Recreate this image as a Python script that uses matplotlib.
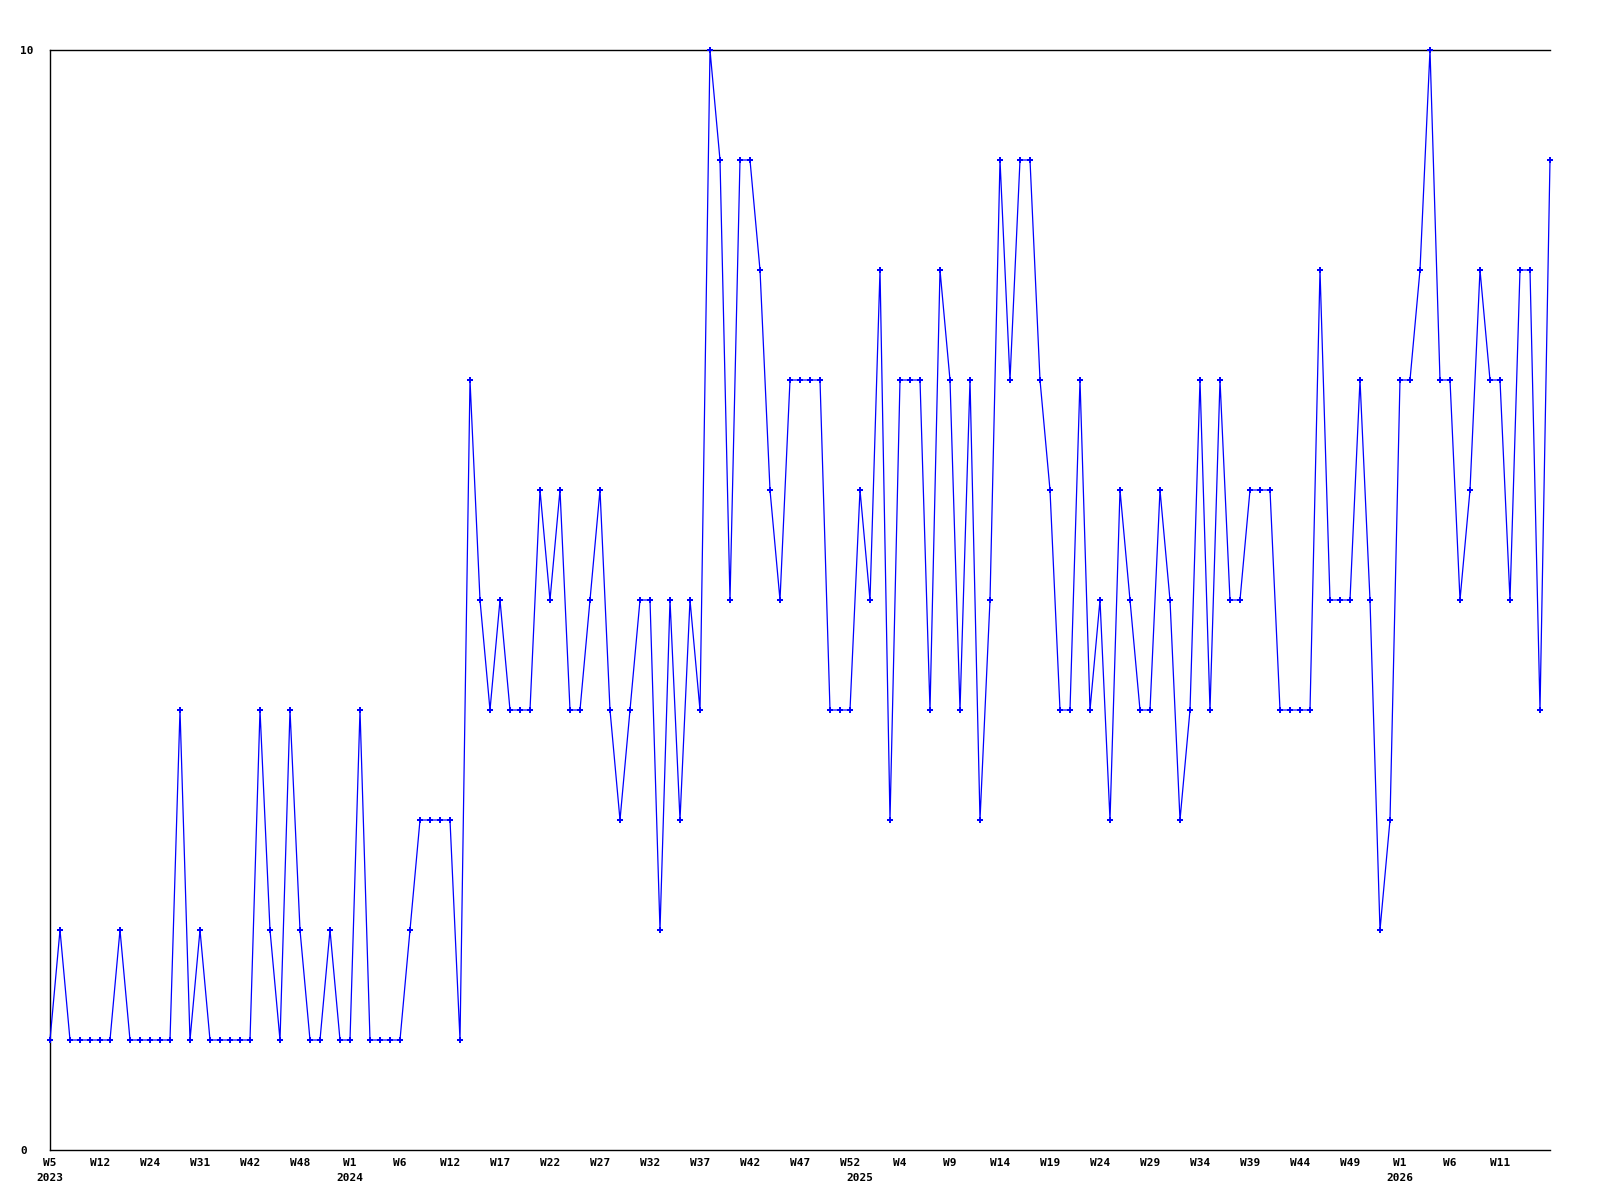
import matplotlib
matplotlib.use("Agg")
import matplotlib.pyplot as plt
import numpy as np

values = [1, 2, 1, 1, 1, 1, 1, 2, 1, 1, 1, 1, 1, 4, 1, 2, 1, 1, 1, 1,
          1, 4, 2, 1, 4, 2, 1, 1, 2, 1, 1, 4, 1, 1, 1, 1, 2, 3, 3, 3,
          3, 1, 7, 5, 4, 5, 4, 4, 4, 6, 5, 6, 4, 4, 5, 6, 4, 3, 4, 5,
          5, 2, 5, 3, 5, 4, 10, 9, 5, 9, 9, 8, 6, 5, 7, 7, 7, 7, 4, 4,
          4, 6, 5, 8, 3, 7, 7, 7, 4, 8, 7, 4, 7, 3, 5, 9, 7, 9, 9, 7,
          6, 4, 4, 7, 4, 5, 3, 6, 5, 4, 4, 6, 5, 3, 4, 7, 4, 7, 5, 5,
          6, 6, 6, 4, 4, 4, 4, 8, 5, 5, 5, 7, 5, 2, 3, 7, 7, 8, 10, 7,
          7, 5, 6, 8, 7, 7, 5, 8, 8, 4, 9]

week_labels = ["W5", "W12", "W24", "W31", "W42", "W48", "W1", "W6", "W12", "W17",
               "W22", "W27", "W32", "W37", "W42", "W47", "W52", "W4", "W9", "W14",
               "W19", "W24", "W29", "W34", "W39", "W44", "W49", "W1", "W6", "W11"]
week_label_pos = list(range(0, 150, 5))

year_labels = ["2023", "2024", "2025", "2026"]
year_label_pos = [0, 30, 81, 135]

y_tick_values = [0, 10]

fig = plt.figure(figsize=(16, 12), dpi=100)
ax = fig.add_axes([50 / 1600, 50 / 1200, 1500 / 1600, 1100 / 1200])

x = np.arange(len(values))
ax.plot(x, values, color="#0000ff", linewidth=0.9, marker="P", markersize=4,
        markeredgewidth=0, clip_on=False, zorder=3)

ax.set_xlim(0, len(values) - 1)
ax.set_ylim(0, 10)

font = dict(family="DejaVu Sans Mono", weight="bold", size=8)

ax.xaxis.remove_overlapping_locs = False
ax.set_xticks(week_label_pos)
ax.set_xticklabels(week_labels, fontdict=font)
ax.set_xticks(year_label_pos, minor=True)
ax.set_xticklabels(year_labels, minor=True, fontdict=font)
ax.tick_params(axis="x", which="major", length=0, pad=5.5)
ax.tick_params(axis="x", which="minor", length=0, pad=16.5)

ax.set_yticks(y_tick_values)
ax.set_yticklabels([str(v) for v in y_tick_values], fontdict=font)
ax.tick_params(axis="y", length=0, pad=21.6)
for lab in ax.get_yticklabels():
    lab.set_horizontalalignment("left")

for side in ["left", "top", "bottom"]:
    ax.spines[side].set_color("black")
    ax.spines[side].set_linewidth(1.0)
ax.spines["right"].set_visible(False)

fig.savefig("out.png", dpi=100, facecolor="white")
